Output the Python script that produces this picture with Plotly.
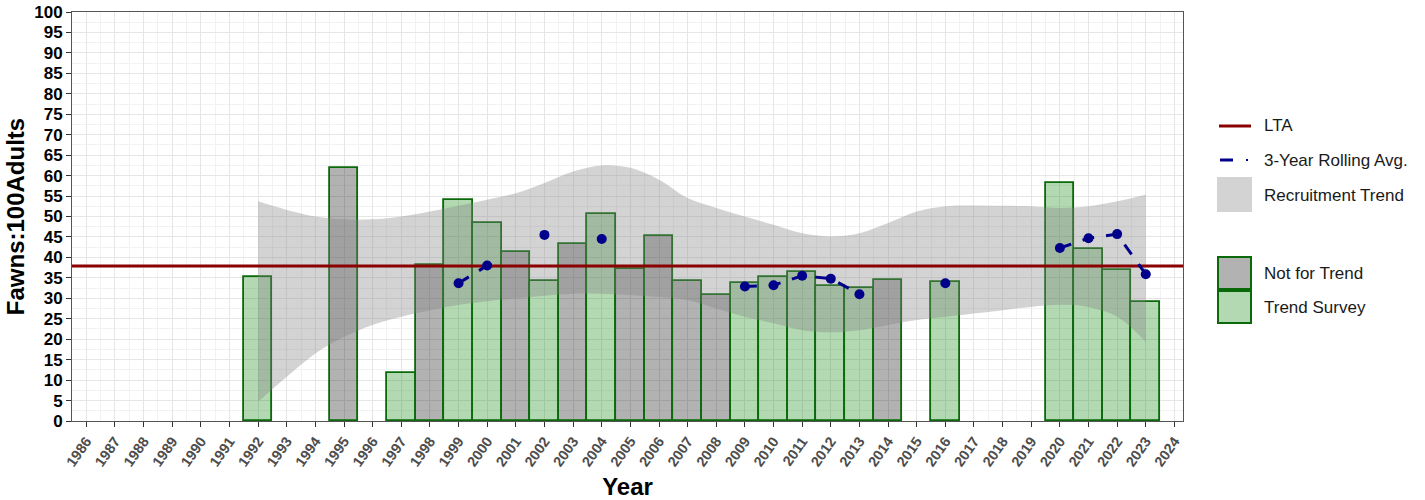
import plotly.graph_objects as go

# ---- Fawn recruitment survey data ----
survey_years = [1992, 1995, 1997, 1998, 1999, 2000, 2001, 2002, 2003, 2004, 2005, 2006,
                2007, 2008, 2009, 2010, 2011, 2012, 2013, 2014, 2016, 2020, 2021, 2022, 2023]
fawns_per_100 = [35.1, 61.9, 11.8, 38.2, 54.1, 48.5, 41.4, 34.3, 43.3, 50.7, 37.2, 45.2,
                 34.3, 30.8, 33.7, 35.1, 36.4, 33.1, 32.6, 34.5, 34.1, 58.3, 42.1, 36.8, 29.0]
survey_type = ["Trend Survey", "Not for Trend", "Trend Survey", "Not for Trend", "Trend Survey",
               "Trend Survey", "Not for Trend", "Trend Survey", "Not for Trend", "Trend Survey",
               "Not for Trend", "Not for Trend", "Not for Trend", "Not for Trend", "Trend Survey",
               "Trend Survey", "Trend Survey", "Trend Survey", "Trend Survey", "Not for Trend",
               "Trend Survey", "Trend Survey", "Trend Survey", "Trend Survey", "Trend Survey"]

# long-term average
lta_value = 37.9

# 3-year rolling average (None where not computed)
rolling_years = [1999, 2000, 2001, 2002, 2003, 2004, 2005, 2006, 2007, 2008, 2009, 2010, 2011,
                 2012, 2013, 2014, 2015, 2016, 2017, 2018, 2019, 2020, 2021, 2022, 2023]
rolling_avg = [33.7, 38.0, None, 45.5, None, 44.5, None, None, None, None, 32.9, 33.2, 35.5,
               34.8, 31.0, None, None, 33.7, None, None, None, 42.3, 44.7, 45.7, 35.9]

# recruitment trend band (smoothed fit, lower / upper bounds)
trend_years = list(range(1992, 2024))
trend_lower = [4.7, 10.8, 16.5, 20.6, 23.5, 25.5, 27.1, 28.4, 29.3, 30.0, 30.6, 31.1, 31.1,
               30.8, 30.3, 29.6, 27.5, 25.5, 23.9, 22.2, 21.7, 22.2, 23.5, 24.7, 25.5, 26.3,
               27.1, 27.9, 28.4, 27.9, 25.5, 19.4]
trend_upper = [53.7, 51.6, 50.0, 49.3, 49.3, 50.0, 51.2, 52.6, 54.1, 55.7, 58.2, 61.0, 62.5,
               61.9, 59.0, 54.5, 52.1, 50.0, 48.0, 45.9, 45.1, 45.9, 48.4, 51.2, 52.5, 52.7,
               52.6, 52.5, 52.1, 52.5, 53.7, 55.3]

x_range = [1985.5, 2024.3]
y_range = [0, 100]

# ---- styling ----
FONT = "Liberation Sans, Arial, sans-serif"
BAR_EDGE = "#0a6a0a"
FILL = {"Not for Trend": "rgba(0,0,0,0.30)", "Trend Survey": "rgba(0,128,0,0.30)"}
BAND = "rgba(128,128,128,0.35)"
LTA_COLOR = "#8B0000"
AVG_COLOR = "#00008B"

fig = go.Figure()

for kind in ["Not for Trend", "Trend Survey"]:
    xs = [y for y, t in zip(survey_years, survey_type) if t == kind]
    vs = [v for v, t in zip(fawns_per_100, survey_type) if t == kind]
    fig.add_trace(go.Bar(
        x=xs, y=vs, width=1, name=kind,
        marker=dict(color=FILL[kind], line=dict(color=BAR_EDGE, width=1.8)),
        showlegend=False,
    ))

# trend band
fig.add_trace(go.Scatter(
    x=trend_years, y=trend_lower, mode="lines",
    line=dict(width=0, shape="spline", smoothing=1.0),
    hoverinfo="skip", showlegend=False,
))
fig.add_trace(go.Scatter(
    x=trend_years, y=trend_upper, mode="lines", fill="tonexty", fillcolor=BAND,
    line=dict(width=0, shape="spline", smoothing=1.0),
    name="Recruitment Trend", showlegend=False,
))

# long-term average line
fig.add_trace(go.Scatter(
    x=x_range, y=[lta_value, lta_value], mode="lines",
    line=dict(color=LTA_COLOR, width=3), name="LTA", showlegend=False,
))

# rolling average
fig.add_trace(go.Scatter(
    x=rolling_years, y=rolling_avg, mode="lines+markers", connectgaps=False,
    line=dict(color=AVG_COLOR, width=3, dash="12px,12px"),
    marker=dict(color=AVG_COLOR, size=10),
    name="3-Year Rolling Avg.", showlegend=False,
))

# ---- layout ----
L, R, T, B = 72, 1183, 12, 421
W, H = 1425, 500


def px(x):
    return (x - L) / (R - L)


def py(y):
    return (B - y) / (B - T)


shapes = [
    dict(type="line", xref="paper", yref="paper", x0=px(1219), x1=px(1251), y0=py(126), y1=py(126),
         line=dict(color=LTA_COLOR, width=3)),
    dict(type="line", xref="paper", yref="paper", x0=px(1220), x1=px(1233), y0=py(160), y1=py(160),
         line=dict(color=AVG_COLOR, width=3)),
    dict(type="line", xref="paper", yref="paper", x0=px(1246), x1=px(1248), y0=py(160), y1=py(160),
         line=dict(color=AVG_COLOR, width=2)),
    dict(type="rect", xref="paper", yref="paper", x0=px(1217), x1=px(1252), y0=py(212), y1=py(177),
         fillcolor=BAND, line=dict(width=0)),
    dict(type="rect", xref="paper", yref="paper", x0=px(1218), x1=px(1251), y0=py(289), y1=py(257),
         fillcolor=FILL["Not for Trend"], line=dict(color=BAR_EDGE, width=2)),
    dict(type="rect", xref="paper", yref="paper", x0=px(1218), x1=px(1251), y0=py(323), y1=py(291),
         fillcolor=FILL["Trend Survey"], line=dict(color=BAR_EDGE, width=2)),
]

legend_items = [("LTA", 126), ("3-Year Rolling Avg.", 161), ("Recruitment Trend", 195),
                ("Not for Trend", 273), ("Trend Survey", 307)]
annotations = [
    dict(text=label, xref="paper", yref="paper", x=px(1262), y=py(ypos), xanchor="left",
         yanchor="middle", showarrow=False, font=dict(family=FONT, size=17, color="#1a1a1a"))
    for label, ypos in legend_items
]

fig.update_layout(
    width=W, height=H,
    margin=dict(l=L, r=W - R, t=T, b=H - B),
    paper_bgcolor="white", plot_bgcolor="white",
    barmode="overlay", bargap=0,
    showlegend=False,
    shapes=shapes, annotations=annotations,
    font=dict(family=FONT),
)

fig.update_xaxes(
    range=x_range, tick0=1986, dtick=1, tickangle=-55, automargin=False,
    ticks="outside", ticklen=5, tickcolor="#333333",
    tickfont=dict(family=FONT, size=14.5, color="#4d4d4d", weight="bold"),
    showgrid=True, gridcolor="#e6e6e6", gridwidth=1,
    minor=dict(dtick=0.5, tick0=1986, showgrid=True, gridcolor="#f2f2f2", gridwidth=1),
    showline=True, linecolor="#555555", linewidth=1, mirror=True,
    zeroline=False,
    title=dict(text="<b>Year</b>", font=dict(family=FONT, size=24, color="black"), standoff=14),
)
fig.update_yaxes(
    range=y_range, tick0=0, dtick=5, automargin=False,
    ticks="outside", ticklen=5, tickcolor="#333333",
    tickfont=dict(family=FONT, size=17, color="black", weight="bold"),
    showgrid=True, gridcolor="#e6e6e6", gridwidth=1,
    minor=dict(dtick=2.5, tick0=0, showgrid=True, gridcolor="#f2f2f2", gridwidth=1),
    showline=True, linecolor="#555555", linewidth=1, mirror=True,
    zeroline=False,
    title=dict(text="<b>Fawns:100Adults</b>", font=dict(family=FONT, size=24, color="black"), standoff=2),
)

fig.write_html("out.html")
